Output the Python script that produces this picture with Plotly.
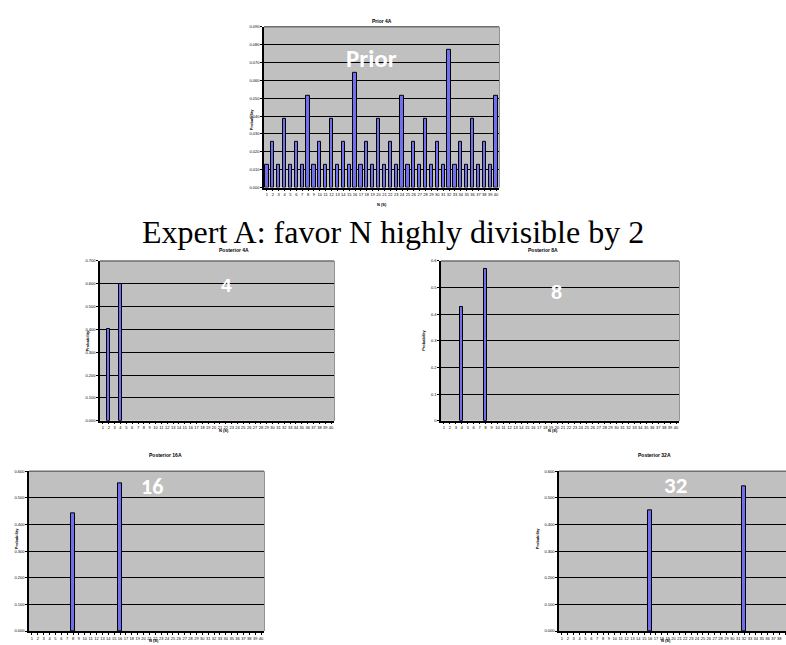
import plotly.graph_objects as go

W, H = 786, 645

# N values on every chart's x axis
n_values = list(range(1, 41))

# Prior 4A: weight grows with how many times N divides by 2
prior_p = [
    0.0128, 0.0256, 0.0128, 0.0385, 0.0128, 0.0256, 0.0128, 0.0513, 0.0128, 0.0256,
    0.0128, 0.0385, 0.0128, 0.0256, 0.0128, 0.0641, 0.0128, 0.0256, 0.0128, 0.0385,
    0.0128, 0.0256, 0.0128, 0.0513, 0.0128, 0.0256, 0.0128, 0.0385, 0.0128, 0.0256,
    0.0128, 0.0769, 0.0128, 0.0256, 0.0128, 0.0385, 0.0128, 0.0256, 0.0128, 0.0513,
]

# Posteriors: only the N with non-zero probability
post4_n, post4_p = [2, 4], [0.400, 0.600]
post8_n, post8_p = [4, 8], [0.429, 0.571]
post16_n, post16_p = [8, 16], [0.444, 0.556]
post32_n, post32_p = [16, 32], [0.455, 0.545]

headline = "Expert A: favor N highly divisible by 2"

BAR = "#6F6FEF"
PLOT_BG = "#C0C0C0"


def px(x):
    return x / W


def py(y):
    return 1 - y / H


# panel: key, title, big label, xs, ys, box (l, t, r, b), y max, y step, tick format,
#        x range end, big-label position, big-label size, big-label font, x-title y
panels = [
    ("", "Prior 4A", "Prior", n_values, prior_p, (264, 24, 499, 186), 0.09, 0.01, ".3f", 40.5,
     (371, 38), 25, "Calibri, Carlito, Open Sans", 199),
    ("2", "Posterior 4A", "4", post4_n, post4_p, (100, 260, 334, 421), 0.7, 0.1, ".3f", 40.5,
     (219, 285), 19, "Arial, Liberation Sans", 435),
    ("3", "Posterior 8A", "8", post8_n, post8_p, (441, 260, 679, 421), 0.6, 0.1, "", 40.5,
     (564, 291), 20, "Arial, Liberation Sans", 435),
    ("4", "Posterior 16A", "16", post16_n, post16_p, (29, 472, 264, 633), 0.6, 0.1, ".3f", 40.5,
     (139, 503), 22, "Calibri, Carlito, Open Sans", 647),
    ("5", "Posterior 32A", "32", post32_n, post32_p, (559, 472, 786, 633), 0.6, 0.1, ".3f", 39.15,
     (689, 502), 23, "Calibri, Carlito, Open Sans", 647),
]

fig = go.Figure()
annotations = []
shapes = []

for key, title, big, xs, ys, box, ymax, dtick, fmt, xend, lpos, lsize, lfont, xty in panels:
    l, t, r, b = box
    xa, ya = "x" + key, "y" + key
    fig.add_trace(go.Bar(
        x=xs, y=ys, xaxis=xa, yaxis=ya, width=0.55,
        marker=dict(color=BAR, line=dict(color="black", width=1)),
        showlegend=False, hoverinfo="skip",
    ))
    xaxis = dict(
        domain=[px(l), px(r)], anchor=ya, range=[0.5, xend],
        tickvals=n_values, ticktext=[str(v) for v in n_values], tickangle=0,
        tickfont=dict(size=4, color="black", family="Arial"),
        showline=True, linecolor="black", linewidth=1.5,
        ticks="outside", ticklen=2, tickcolor="black",
        showgrid=False, zeroline=False, fixedrange=True,
    )
    yvals = [round(i * dtick, 3) for i in range(int(round(ymax / dtick)) + 1)]
    if fmt:
        ytext = [format(v, fmt) for v in yvals]
    else:
        ytext = ["0" if v == 0 else ("%g" % v) for v in yvals]
    yaxis = dict(
        domain=[py(b), py(t)], anchor=xa, range=[0, ymax],
        tickvals=yvals, ticktext=ytext,
        tickfont=dict(size=4, color="black", family="Arial"),
        showline=True, linecolor="black", linewidth=1.5,
        ticks="outside", ticklen=2, tickcolor="black",
        showgrid=True, gridcolor="black", gridwidth=1,
        zeroline=False, fixedrange=True,
    )
    fig.update_layout(**{"xaxis" + key: xaxis, "yaxis" + key: yaxis})

    # gray plot-area border on the top and right
    shapes.append(dict(type="line", xref="paper", yref="paper",
                       x0=px(l), x1=px(r), y0=py(t), y1=py(t),
                       line=dict(color="#6E6E6E", width=1.5), layer="above"))
    shapes.append(dict(type="line", xref="paper", yref="paper",
                       x0=px(r), x1=px(r), y0=py(t), y1=py(b),
                       line=dict(color="#6E6E6E", width=1.5), layer="below"))
    # plot-area fill
    shapes.append(dict(type="rect", xref="paper", yref="paper",
                       x0=px(l), x1=px(r), y0=py(b), y1=py(t),
                       fillcolor=PLOT_BG, line=dict(width=0), layer="below"))

    cx = (l + r) / 2
    annotations.append(dict(text="<b>%s</b>" % title, x=px(cx), y=py(t - 11),
                            xref="paper", yref="paper", showarrow=False,
                            font=dict(size=5, family="Arial", color="black")))
    annotations.append(dict(text="<b>Probability</b>", x=px(l - 17), y=py((t + b) / 2),
                            xref="paper", yref="paper", showarrow=False, textangle=-90,
                            font=dict(size=4, family="Arial", color="black")))
    annotations.append(dict(text="<b>N (S)</b>", x=px(cx), y=py(xty),
                            xref="paper", yref="paper", showarrow=False,
                            font=dict(size=4, family="Arial", color="black")))
    annotations.append(dict(text="<b>%s</b>" % big, x=px(lpos[0]), y=py(lpos[1]),
                            xref="paper", yref="paper", showarrow=False,
                            font=dict(size=lsize, family=lfont, color="white")))

annotations.append(dict(text=headline, x=0.5, y=py(231), xref="paper", yref="paper",
                        showarrow=False,
                        font=dict(size=32, family="Times New Roman, Liberation Serif, serif",
                                  color="black")))

fig.update_layout(
    width=W, height=H, margin=dict(l=0, r=0, t=0, b=0),
    paper_bgcolor="white", plot_bgcolor="rgba(0,0,0,0)",
    bargap=0, annotations=annotations, shapes=shapes,
)

fig.write_html("out.html")
